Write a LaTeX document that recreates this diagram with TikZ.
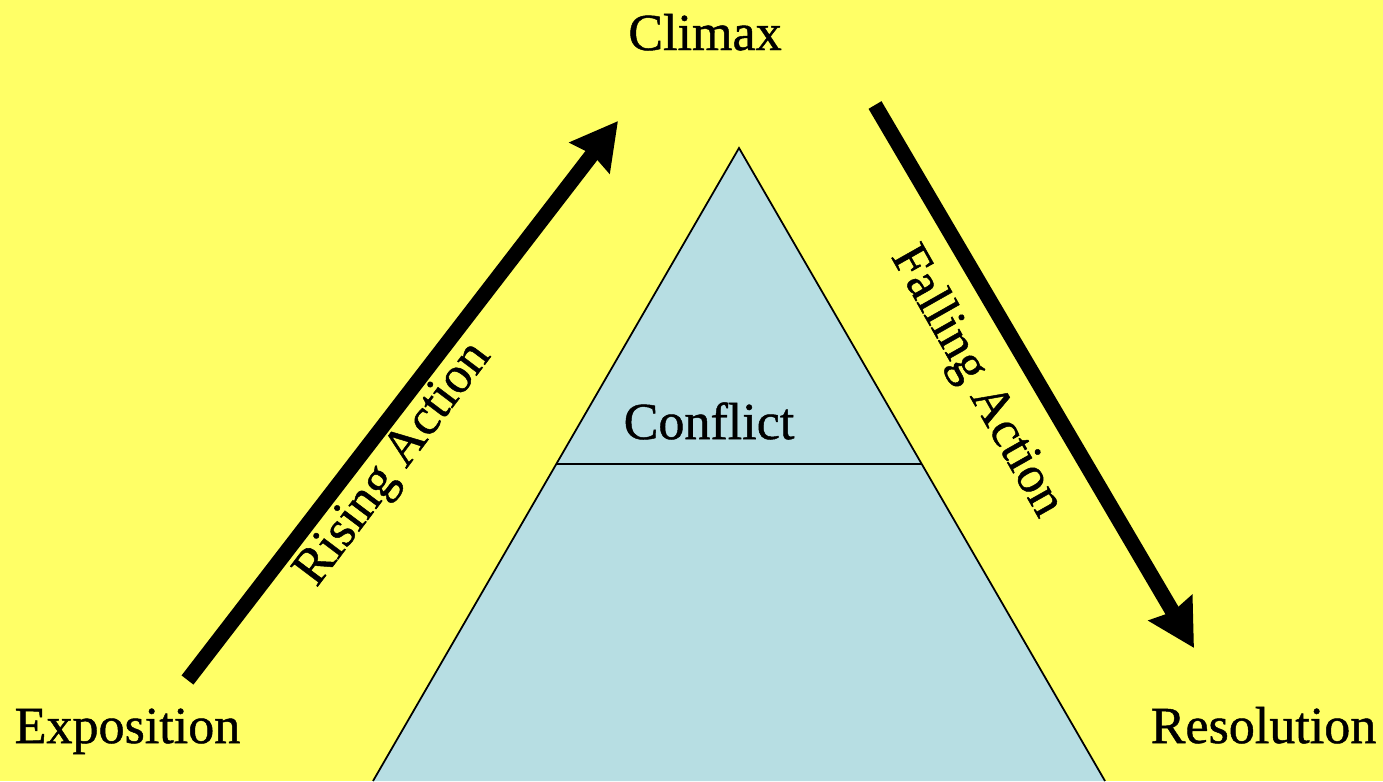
\documentclass[tikz,border=0pt]{standalone}
\usepackage{fontspec}
\setmainfont{Liberation Serif}
\newfontfamily\lblfont{Liberation Serif}[FakeBold=0.9]
\usetikzlibrary{arrows.meta}
\definecolor{bgyellow}{RGB}{255,255,102}
\definecolor{pyramid}{RGB}{183,222,227}
\begin{document}
\begin{tikzpicture}[x=0.01cm, y=-0.01cm,
    lbl/.style={anchor=base, inner sep=0pt, font=\lblfont\fontsize{14.8pt}{16pt}\selectfont},
    bigarrow/.style={line width=0.15cm, -{Stealth[length=4.6mm, width=4.9mm, inset=0.4mm]}}]
    \fill[bgyellow] (0, 0) rectangle (1383, 781);
    \useasboundingbox (0, 0) rectangle (1383, 781);
    % pyramid
    \coordinate (apex) at (739, 148);
    \coordinate (bl) at (373, 781);
    \coordinate (br) at (1105, 781);
    \coordinate (ml) at (556.3, 464);
    \coordinate (mr) at (921.7, 464);
    \filldraw[fill=pyramid, draw=black, line width=0.5pt] (bl) -- (apex) -- (br);
    \draw[line width=0.6pt] (ml) -- (mr);
    \node[lbl] (conflict) at (709, 439) {Conflict};
    % labels
    \node[lbl] (climax) at (705, 50) {Climax};
    \node[lbl] (exposition) at (127.5, 743) {Exposition};
    \node[lbl] (resolution) at (1263.5, 743) {Resolution};
    % arrows
    \coordinate (rs) at (187.5, 680);
    \coordinate (re) at (618, 121);
    \coordinate (fs) at (875, 105);
    \coordinate (fe) at (1194, 648);
    \draw[bigarrow] (rs) -- (re);
    \draw[bigarrow] (fs) -- (fe);
    \node[lbl, rotate=53] (rising) at (404, 472) {Rising Action};
    \node[lbl, rotate=-60.5] (falling) at (965, 388) {Falling Action};
\end{tikzpicture}
\end{document}
